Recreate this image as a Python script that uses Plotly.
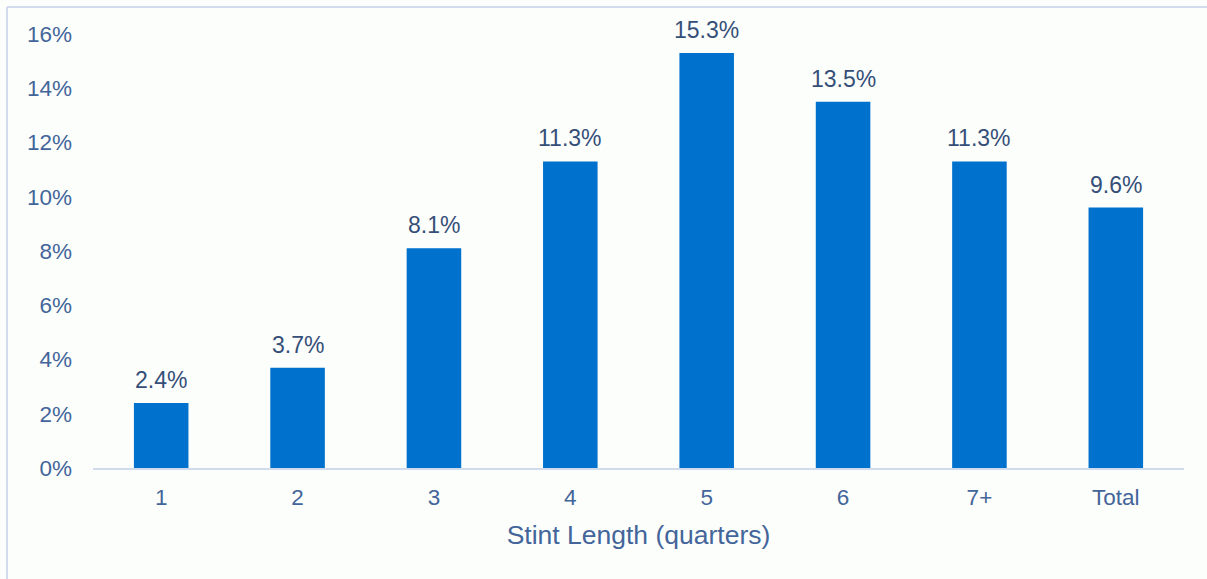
import plotly.graph_objects as go

categories = ["1", "2", "3", "4", "5", "6", "7+", "Total"]
values = [2.4, 3.7, 8.1, 11.3, 15.3, 13.5, 11.3, 9.6]
labels = ["2.4%", "3.7%", "8.1%", "11.3%", "15.3%", "13.5%", "11.3%", "9.6%"]
y_ticks = [0, 2, 4, 6, 8, 10, 12, 14, 16]
y_tick_text = [f"{v}%" for v in y_ticks]

BAR = "#0071CC"
TICK = "#43659A"
LABEL = "#354F78"
BG = "#FCFEFC"
BORDER = "#D0DCEE"
FONT = "Liberation Sans, Arial, sans-serif"

fig = go.Figure()
fig.add_trace(go.Bar(x=categories, y=values, marker=dict(color=BAR, line=dict(width=0)),
                     hoverinfo="skip"))

# category axis: annotation x given as category index
for i, (v, t) in enumerate(zip(values, labels)):
    fig.add_annotation(x=i, y=v, text=t, showarrow=False, yanchor="bottom",
                       yshift=8, font=dict(family=FONT, size=23, color=LABEL))

W, H = 1207, 579
ml, mr, mt, mb = 93, 23, 34, 111
pw, ph = W - ml - mr, H - mt - mb
def px(x):
    return (x - ml) / pw
def py(y):
    return (H - mb - y) / ph

fig.add_shape(type="line", xref="paper", yref="paper", x0=px(7), x1=px(W + 5),
              y0=py(7), y1=py(7), line=dict(color=BORDER, width=2))
fig.add_shape(type="line", xref="paper", yref="paper", x0=px(7), x1=px(7),
              y0=py(7), y1=py(H + 5), line=dict(color=BORDER, width=2))

fig.update_layout(
    width=W, height=H,
    margin=dict(l=ml, r=mr, t=mt, b=mb),
    paper_bgcolor=BG, plot_bgcolor=BG,
    bargap=0.6, showlegend=False,
    font=dict(family=FONT, color=TICK),
    xaxis=dict(showgrid=False, showline=True, linecolor=BORDER, linewidth=2,
               ticks="", tickfont=dict(size=22.5, color=TICK), ticklabelstandoff=8,
               title=dict(text="Stint Length (quarters)", font=dict(size=26.5, color=TICK), standoff=16)),
    yaxis=dict(range=[0, 16], showgrid=False, zeroline=False, showline=False,
               tickvals=y_ticks, ticktext=y_tick_text, ticks="",
               tickfont=dict(size=22.5, color=TICK), ticklabelstandoff=20),
)

fig.write_html("out.html")
